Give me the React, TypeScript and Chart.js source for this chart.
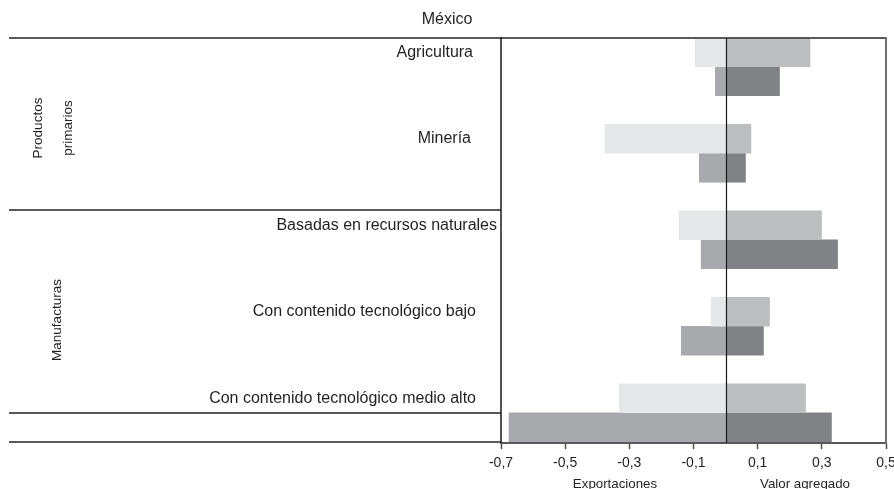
import React, { useEffect, useRef } from "react";
import { Chart, registerables } from "chart.js";

Chart.register(...registerables);

// ---------- data ----------
const TITLE = "México";
const CATEGORIES = [
  "Agricultura",
  "Minería",
  "Basadas en recursos naturales",
  "Con contenido tecnológico bajo",
  "Con contenido tecnológico medio alto",
];
const GROUP_LABELS = [["Productos", "primarios"], ["Manufacturas"]];
const EXPORT_ROW1 = [-0.095, -0.376, -0.145, -0.045, -0.331];
const EXPORT_ROW2 = [-0.032, -0.082, -0.076, -0.138, -0.675];
const VALUE_ROW1 = [0.263, 0.079, 0.299, 0.137, 0.249];
const VALUE_ROW2 = [0.168, 0.062, 0.349, 0.118, 0.33];
const TICK_VALUES = [-0.7, -0.5, -0.3, -0.1, 0.1, 0.3, 0.5];
const TICK_LABELS = ["-0,7", "-0,5", "-0,3", "-0,1", "0,1", "0,3", "0,5"];
const AXIS_TITLES = ["Exportaciones", "Valor agregado"];

// ---------- layout / style ----------
const W = 894;
const H = 489;
const FONT = "'Liberation Sans', Arial, sans-serif";
const TEXT = "#231f20";
const LINE = "#58595b";
const C_EXP1 = "#e6e7e8";
const C_EXP2 = "#a7a9ac";
const C_VAL1 = "#bcbec0";
const C_VAL2 = "#808285";
const LABEL_RIGHT = [473, 471, 497, 476, 476];
const GROUP_BOUNDS = [1.657, 4.0, 4.34]; // in category units on the y scale
const GROUP_LABEL_POS = [
  { xs: [38, 68], y: 128 },
  { xs: [57], y: 320 },
];
const AXIS_TITLE_X = [615, 805];

const overlay = {
  id: "overlay",
  afterDraw(chart: any) {
    const { ctx, chartArea: a, scales } = chart;
    const x = scales.x;
    const y = scales.y;
    ctx.save();
    const hline = (x1: number, x2: number, yy: number, color: string, w: number) => {
      ctx.beginPath();
      ctx.strokeStyle = color;
      ctx.lineWidth = w;
      ctx.moveTo(x1, yy);
      ctx.lineTo(x2, yy);
      ctx.stroke();
    };
    const vline = (xx: number, y1: number, y2: number, color: string, w: number) => {
      ctx.beginPath();
      ctx.strokeStyle = color;
      ctx.lineWidth = w;
      ctx.moveTo(xx, y1);
      ctx.lineTo(xx, y2);
      ctx.stroke();
    };
    // frame lines
    hline(9, a.right + 1, a.top, LINE, 2);
    GROUP_BOUNDS.forEach((b) => hline(9, a.left, Math.round(y.getPixelForValue(b)), LINE, 2));
    vline(a.left, a.top - 1, a.bottom, "#1a1a1a", 1.5);
    vline(a.right, a.top - 1, a.bottom, "#6d6e71", 2);
    const zx = Math.round(x.getPixelForValue(0)) + 0.5;
    vline(zx, a.top, a.bottom, "#1a1a1a", 1.2);

    // title
    ctx.fillStyle = TEXT;
    ctx.font = `16px ${FONT}`;
    ctx.textAlign = "center";
    ctx.textBaseline = "middle";
    ctx.fillText(TITLE, W / 2, 20);

    // category labels
    ctx.textAlign = "right";
    CATEGORIES.forEach((c, i) => {
      const py = y.getPixelForValue(i) - 14.5;
      ctx.fillText(c, LABEL_RIGHT[i], py);
    });

    // group labels (rotated)
    ctx.font = `13.5px ${FONT}`;
    ctx.textAlign = "center";
    GROUP_LABELS.forEach((lines, gi) => {
      const pos = GROUP_LABEL_POS[gi];
      lines.forEach((t, li) => {
        ctx.save();
        ctx.translate(pos.xs[li], pos.y);
        ctx.rotate(-Math.PI / 2);
        ctx.fillText(t, 0, 0);
        ctx.restore();
      });
    });

    // axis titles
    ctx.font = `13.3px ${FONT}`;
    ctx.textBaseline = "alphabetic";
    AXIS_TITLES.forEach((t, i) => ctx.fillText(t, AXIS_TITLE_X[i], 488));
    ctx.restore();
  },
};

export default function App() {
  const ref = useRef<HTMLCanvasElement | null>(null);
  useEffect(() => {
    if (!ref.current) return;
    const toPts = (arr: number[]) => arr.map((v, i) => ({ x: v, y: i }));
    const ds = (label: string, arr: number[], color: string, stack: string) => ({
      label,
      data: toPts(arr),
      backgroundColor: color,
      borderWidth: 0,
      barThickness: 29,
      stack,
    });
    const chart = new Chart(ref.current, {
      type: "bar",
      data: {
        datasets: [
          ds("Exportaciones 1", EXPORT_ROW1, C_EXP1, "r1"),
          ds("Exportaciones 2", EXPORT_ROW2, C_EXP2, "r2"),
          ds("Valor agregado 1", VALUE_ROW1, C_VAL1, "r1"),
          ds("Valor agregado 2", VALUE_ROW2, C_VAL2, "r2"),
        ] as any,
      },
      options: {
        indexAxis: "y",
        animation: false,
        responsive: false,
        maintainAspectRatio: false,
        layout: { padding: { left: 501, right: 8, top: 38, bottom: 0 } },
        plugins: {
          legend: { display: false },
          tooltip: { enabled: false },
          title: { display: false },
        },
        scales: {
          x: {
            type: "linear",
            min: -0.7,
            max: 0.5,
            stacked: true,
            afterBuildTicks: (s: any) => {
              s.ticks = TICK_VALUES.map((v) => ({ value: v }));
            },
            afterFit: (s: any) => {
              s.height = 46;
              s.paddingLeft = 0;
              s.paddingRight = 0;
            },
            ticks: {
              callback: (_v: any, i: number) => TICK_LABELS[i],
              font: { size: 14, family: FONT },
              color: TEXT,
              padding: 6,
              maxRotation: 0,
              autoSkip: false,
            },
            grid: {
              display: true,
              drawOnChartArea: false,
              drawTicks: true,
              tickLength: 6,
              tickColor: "#4d4d4f",
              tickWidth: 1.5,
            },
            border: { display: true, color: LINE, width: 2 },
          },
          y: {
            type: "linear",
            display: false,
            reverse: true,
            offset: false,
            min: -0.332,
            max: 4.35,
          },
        },
      } as any,
      plugins: [overlay],
    });
    return () => chart.destroy();
  }, []);
  return (
    <div style={{ position: "absolute", left: 0, top: 0, width: W, height: H, background: "#fff" }}>
      <canvas ref={ref} width={W} height={H} style={{ width: W, height: H, display: "block" }} />
    </div>
  );
}
